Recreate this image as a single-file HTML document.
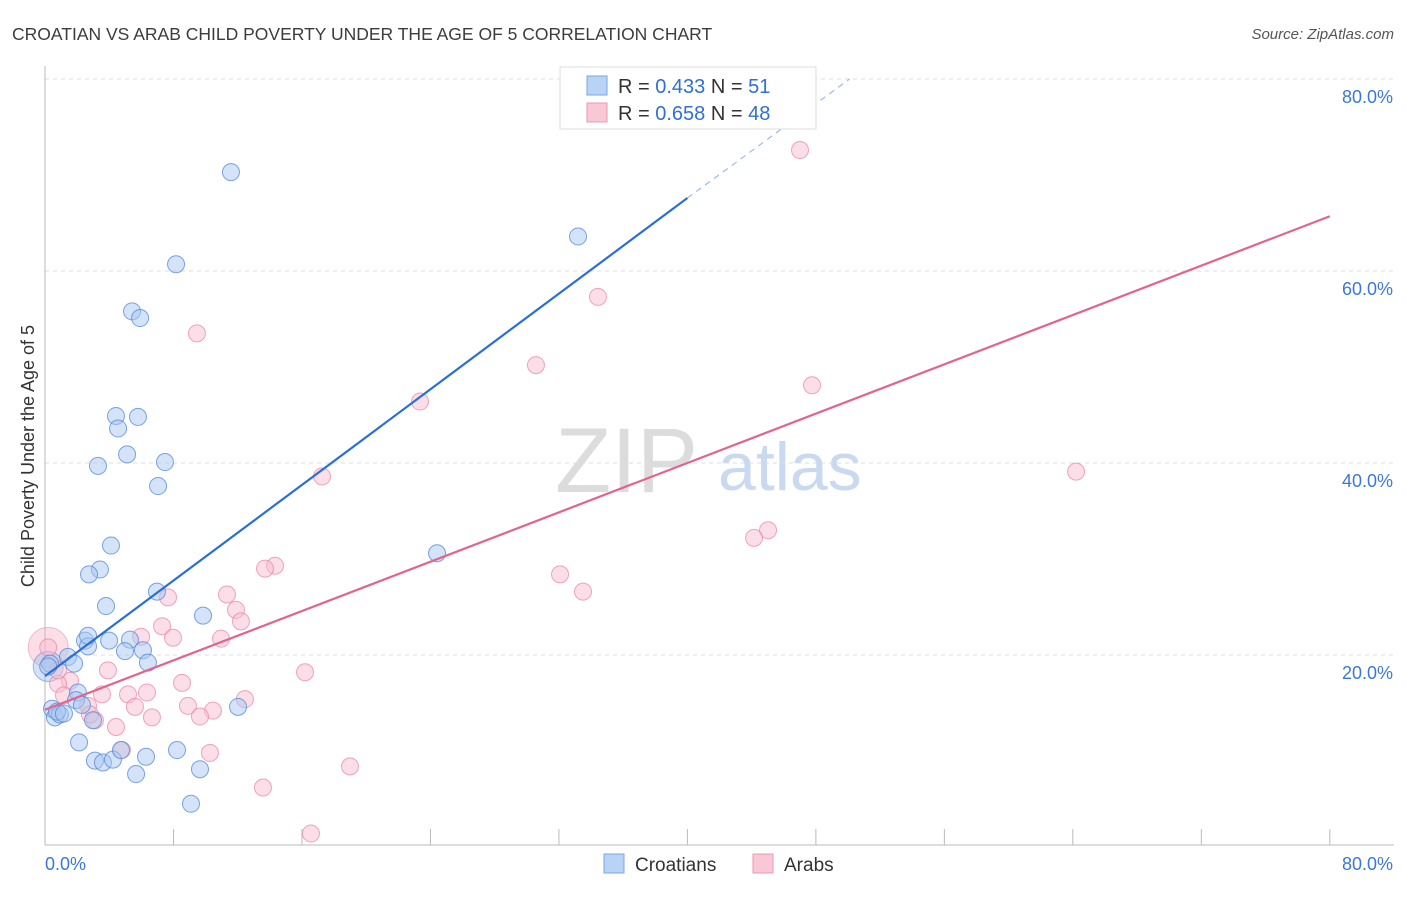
<!DOCTYPE html>
<html><head><meta charset="utf-8"><style>
body{margin:0;background:#fff;font-family:"Liberation Sans",sans-serif;}
svg text{font-family:"Liberation Sans",sans-serif;}
</style></head><body>
<svg id="chart" width="1406" height="892" xmlns="http://www.w3.org/2000/svg">
<text x="12" y="40" font-size="17.5" fill="#3c3c3c">CROATIAN VS ARAB CHILD POVERTY UNDER THE AGE OF 5 CORRELATION CHART</text>
<text x="1394" y="39" font-size="15" fill="#555" font-style="italic" text-anchor="end">Source: ZipAtlas.com</text>
<text x="555" y="492" font-size="92" fill="#dcdcdc" font-family="Liberation Serif">ZIP</text>
<text x="718" y="490" font-size="68" fill="#c9daf0">atlas</text>
<g id="grid"></g><g id="axes"></g><g id="pts"></g><g id="lines"></g>
<g>
<rect x="560" y="67" width="256" height="62" fill="#fff" stroke="#ddd"/>
<rect x="587" y="76" width="20" height="19" fill="#b8d3f5" stroke="#7aa6e0"/>
<rect x="587" y="103" width="20" height="19" fill="#f9c8d7" stroke="#eb98b2"/>
<text x="618" y="93" font-size="20" fill="#333">R = <tspan fill="#2f6fd6">0.433</tspan>   N = <tspan fill="#2f6fd6"> 51</tspan></text>
<text x="618" y="120" font-size="20" fill="#333">R = <tspan fill="#2f6fd6">0.658</tspan>   N = <tspan fill="#2f6fd6">48</tspan></text>
</g>
<g>
<rect x="604" y="854" width="20" height="19" fill="#b8d3f5" stroke="#7aa6e0"/>
<text x="635" y="871" font-size="19" fill="#333">Croatians</text>
<rect x="753" y="854" width="20" height="19" fill="#f9c8d7" stroke="#eb98b2"/>
<text x="784" y="871" font-size="19" fill="#333">Arabs</text>
</g>
<text transform="translate(34,456) rotate(-90)" font-size="18" fill="#333" text-anchor="middle">Child Poverty Under the Age of 5</text>
</svg>
<script>
const yTicks=[20,40,60,80];
const yTickLabels=["20.0%","40.0%","60.0%","80.0%"];
const xTicks=[0,8,16,24,32,40,48,56,64,72,80];
const blueX=[11.58,8.16,33.19,5.42,5.92,4.42,5.79,4.55,5.11,3.30,7.47,7.04,24.41,4.11,3.42,2.74,3.80,6.97,9.84,2.49,2.68,3.99,5.29,4.98,6.10,6.41,1.43,1.81,0.31,12.02,0.44,0.62,0.93,0.75,1.18,2.05,1.93,2.30,2.99,2.12,3.11,3.61,4.23,4.73,6.29,5.67,8.22,9.65,9.09,2.68,0.2];
const blueY=[70.3,60.7,63.6,55.8,55.1,44.9,44.8,43.6,40.9,39.7,40.1,37.6,30.6,31.4,28.9,28.4,25.1,26.6,24.1,21.5,20.9,21.5,21.6,20.4,20.5,19.2,19.8,19.1,19.1,14.6,14.4,13.5,13.8,14.1,13.9,16.1,15.3,14.8,13.2,10.9,9.0,8.8,9.1,10.1,9.4,7.6,10.1,8.1,4.5,22.0,18.8];
const pinkX=[47.01,34.43,9.46,30.57,47.76,23.35,64.20,17.25,45.02,44.15,32.07,33.50,14.32,13.70,11.33,7.66,11.89,12.20,7.29,5.98,7.97,10.96,0.2,3.92,16.19,8.53,1.56,0.81,1.18,12.45,5.17,6.35,3.55,5.60,8.90,2.68,6.66,10.46,9.65,3.11,4.42,4.79,10.27,18.99,13.57,16.56,0.81,2.80];
const pinkY=[72.6,57.3,53.5,50.2,48.1,46.4,39.1,38.6,33.0,32.2,28.4,26.6,29.3,29.0,26.3,26.0,24.7,23.5,23.0,21.9,21.8,21.7,20.8,18.4,18.2,17.1,17.3,17.0,15.8,15.4,15.9,16.1,15.9,14.6,14.7,14.7,13.5,14.2,13.6,13.2,12.5,10.1,9.8,8.4,6.2,1.4,18.4,13.8];
const blueLine=[[0,17.8],[40,67.6]];
const blueDash=[[40,67.6],[50.1,80]];
const pinkLine=[[0,14.3],[80,65.7]];
const X=v=>45+v*16.06, Y=v=>847-v*9.6;
const NS="http://www.w3.org/2000/svg";
function mk(t,a,p){const e=document.createElementNS(NS,t);for(const k in a)e.setAttribute(k,a[k]);p.appendChild(e);return e;}
const grid=document.getElementById('grid'),axes=document.getElementById('axes'),pts=document.getElementById('pts'),lines=document.getElementById('lines');
yTicks.forEach((t,i)=>{
 const l=mk('line',{x1:45,x2:1394,y1:Y(t),y2:Y(t),stroke:'#ddd','stroke-dasharray':'4,4'},grid);
 
 
 const tx=mk('text',{x:1393,y:Y(t)+24,'font-size':18,fill:'#3a78d8','text-anchor':'end'},axes);
 tx.textContent=yTickLabels[i];
 
 
});
const ax=mk('line',{x1:45,x2:1394,y1:845,y2:845,stroke:'#bbb'},axes);


const ay=mk('line',{x1:45,x2:45,y1:66,y2:845,stroke:'#bbb'},axes);


xTicks.forEach(t=>{
 const l=mk('line',{x1:X(t),x2:X(t),y1:829,y2:845,stroke:'#bbb'},axes);
 
 
});
const x0=mk('text',{x:45,y:870,'font-size':18,fill:'#3a78d8'},axes);x0.textContent='0.0%';


const x1=mk('text',{x:1393,y:870,'font-size':18,fill:'#3a78d8','text-anchor':'end'},axes);x1.textContent='80.0%';


// big bubbles
const bb1=mk('circle',{cx:X(0.2),cy:Y(20.8),r:20,fill:'rgba(245,160,185,0.35)',stroke:'rgba(235,130,165,0.5)'},pts);


const bb2=mk('circle',{cx:X(0.2),cy:Y(18.8),r:15,fill:'rgba(150,185,235,0.4)',stroke:'rgba(90,140,220,0.6)'},pts);


pinkX.forEach((v,i)=>{
 const c=mk('circle',{cx:X(v),cy:Y(pinkY[i]),r:8.5,fill:'rgba(248,190,208,0.5)',stroke:'rgba(232,130,165,0.7)','stroke-width':1},pts);
 
 
});
blueX.forEach((v,i)=>{
 const c=mk('circle',{cx:X(v),cy:Y(blueY[i]),r:8.5,fill:'rgba(170,200,240,0.5)',stroke:'rgba(80,135,215,0.75)','stroke-width':1},pts);
 
 
});
const bl=mk('line',{x1:X(blueLine[0][0]),y1:Y(blueLine[0][1]),x2:X(blueLine[1][0]),y2:Y(blueLine[1][1]),stroke:'#2a6fd9','stroke-width':2.2},lines);


const bd=mk('line',{x1:X(blueDash[0][0]),y1:Y(blueDash[0][1]),x2:X(blueDash[1][0]),y2:Y(blueDash[1][1]),stroke:'#9bbbe8','stroke-width':1.2,'stroke-dasharray':'6,5'},lines);


const pl=mk('line',{x1:X(pinkLine[0][0]),y1:Y(pinkLine[0][1]),x2:X(pinkLine[1][0]),y2:Y(pinkLine[1][1]),stroke:'#e2648e','stroke-width':2.2},lines);


</script>
</body></html>
